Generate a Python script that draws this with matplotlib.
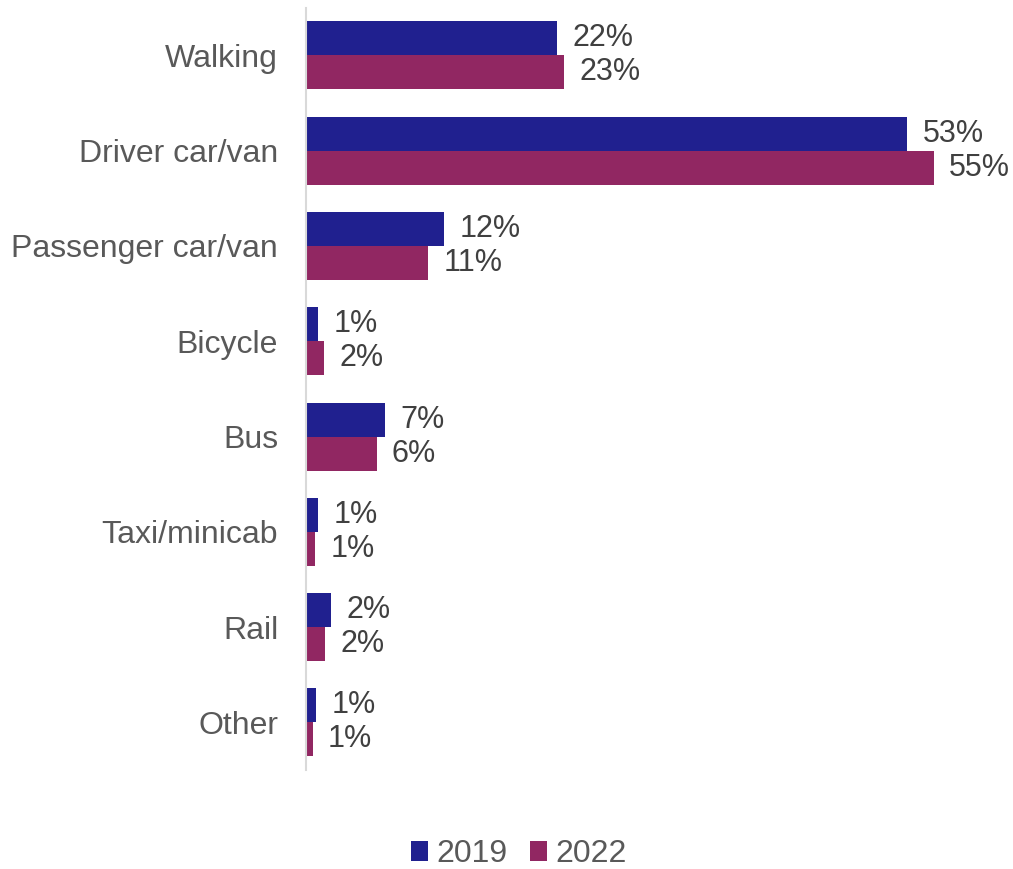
import numpy as np
import matplotlib.pyplot as plt

plt.rcParams['font.family'] = ['Liberation Sans', 'DejaVu Sans']

modes = ['Walking', 'Driver car/van', 'Passenger car/van', 'Bicycle',
         'Bus', 'Taxi/minicab', 'Rail', 'Other']
share_2019 = [22.0, 52.7, 12.1, 1.1, 6.9, 1.1, 2.2, 0.9]
share_2022 = [22.6, 55.0, 10.7, 1.6, 6.2, 0.8, 1.7, 0.6]

blue = '#20208F'
plum = '#912762'

fig = plt.figure(figsize=(10.13, 8.69), dpi=100)
ax = fig.add_axes([0.302, 0.114, 0.676, 0.877])

y = np.arange(len(modes))
h = 0.357
b1 = ax.barh(y - h / 2, share_2019, h, color=blue, label='2019')
b2 = ax.barh(y + h / 2, share_2022, h, color=plum, label='2022')

for bars, vals in ((b1, share_2019), (b2, share_2022)):
    for bar, v in zip(bars, vals):
        ax.annotate('{:.0f}%'.format(v),
                    (bar.get_width(), bar.get_y() + bar.get_height() / 2),
                    xytext=(11, 0), textcoords='offset points',
                    ha='left', va='center', fontsize=22, color='#404040')

ax.set_xlim(0, 60)
ax.set_ylim(len(modes) - 0.5, -0.5)
ax.set_yticks(y)
ax.set_yticklabels(modes, fontsize=23, color='#595959')
ax.tick_params(axis='y', length=0, pad=20)
ax.set_xticks([])
for s in ('top', 'right', 'bottom'):
    ax.spines[s].set_visible(False)
ax.spines['left'].set_color('#D9D9D9')
ax.spines['left'].set_linewidth(1.5)

leg = fig.legend(handles=[b1, b2], loc='center', bbox_to_anchor=(0.512, 0.017),
                 ncol=2, frameon=False, fontsize=23, handlelength=0.55,
                 handleheight=0.55, handletextpad=0.25, columnspacing=0.7)
for t in leg.get_texts():
    t.set_color('#595959')

fig.savefig('out.png', dpi=100)
